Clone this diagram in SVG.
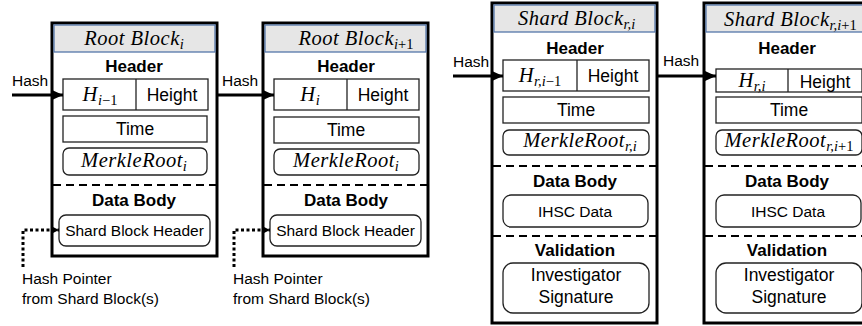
<svg xmlns="http://www.w3.org/2000/svg" width="862" height="326" viewBox="0 0 862 326">
<style>
.outer{fill:#fff;stroke:#000;stroke-width:3}
.band{fill:#e6e6e6;stroke:#5577aa;stroke-width:1.3}
.cell{fill:#fff;stroke:#222;stroke-width:1.3}
.sep{stroke:#000;stroke-width:2;stroke-dasharray:8 5;fill:none}
.math{font-family:"Liberation Serif","DejaVu Serif",serif;font-style:italic;font-size:20.5px;letter-spacing:0.5px;fill:#000}
.sub{font-size:14.5px;letter-spacing:0}
.up{font-style:normal}
.bold{font-family:"Liberation Sans",Arial,sans-serif;font-weight:bold;font-size:17px;fill:#000}
.txt{font-family:"Liberation Sans",Arial,sans-serif;font-size:17.5px;fill:#000}
.sm{font-family:"Liberation Sans",Arial,sans-serif;font-size:15.5px;fill:#000}
.arr{stroke:#000;stroke-width:3;fill:none}
.dot{stroke:#000;stroke-width:3;stroke-dasharray:3 2.5;fill:none}
</style>
<defs>
<marker id="ah" markerUnits="userSpaceOnUse" markerWidth="11" markerHeight="10" refX="11" refY="5" orient="auto">
<path d="M0,0 L11,5 L0,10 z" fill="#000"/>
</marker>
<marker id="ahs" markerUnits="userSpaceOnUse" markerWidth="8" markerHeight="8" refX="8" refY="4" orient="auto">
<path d="M0,0 L8,4 L0,8 z" fill="#000"/>
</marker>
</defs>

<g id="root-block-i">
<rect class="outer" x="52" y="23" width="165" height="233"/>
<rect class="band" x="54" y="25" width="161" height="27"/>
<text class="math" x="134" y="45" text-anchor="middle">Root Block<tspan class="sub" dy="4">i</tspan></text>
<text class="bold" x="134" y="72" text-anchor="middle">Header</text>
<rect class="cell" x="63" y="79" width="145" height="31"/>
<line x1="136" y1="79" x2="136" y2="110" stroke="#222" stroke-width="1.3"/>
<text class="math" x="100" y="101" text-anchor="middle">H<tspan class="sub" dy="4">i<tspan class="up">−1</tspan></tspan></text>
<text class="txt" x="172" y="101" text-anchor="middle">Height</text>
<rect class="cell" x="63" y="116" width="144" height="26"/>
<text class="txt" x="135" y="135" text-anchor="middle">Time</text>
<rect class="cell" x="63" y="148" width="144" height="27" rx="6"/>
<text class="math" x="134" y="167" text-anchor="middle">MerkleRoot<tspan class="sub" dy="4">i</tspan></text>
<line class="sep" x1="53" y1="185" x2="216" y2="185"/>
<text class="bold" x="134" y="206" text-anchor="middle">Data Body</text>
<rect class="cell" x="59" y="215" width="151" height="31" rx="7"/>
<text class="sm" x="134.5" y="236" text-anchor="middle">Shard Block Header</text>
</g>

<g id="root-block-i1">
<rect class="outer" x="263" y="23" width="165" height="233"/>
<rect class="band" x="265" y="25" width="161" height="27"/>
<text class="math" x="356" y="45" text-anchor="middle">Root Block<tspan class="sub" dy="4">i<tspan class="up">+1</tspan></tspan></text>
<text class="bold" x="346" y="72" text-anchor="middle">Header</text>
<rect class="cell" x="274" y="79" width="145" height="31"/>
<line x1="347" y1="79" x2="347" y2="110" stroke="#222" stroke-width="1.3"/>
<text class="math" x="310" y="101" text-anchor="middle">H<tspan class="sub" dy="4">i</tspan></text>
<text class="txt" x="383" y="101" text-anchor="middle">Height</text>
<rect class="cell" x="274" y="117" width="145" height="26"/>
<text class="txt" x="346" y="136" text-anchor="middle">Time</text>
<rect class="cell" x="274" y="149" width="145" height="26" rx="6"/>
<text class="math" x="346" y="167" text-anchor="middle">MerkleRoot<tspan class="sub" dy="4">i</tspan></text>
<line class="sep" x1="264" y1="185" x2="427" y2="185"/>
<text class="bold" x="346" y="206" text-anchor="middle">Data Body</text>
<rect class="cell" x="270" y="215" width="151" height="31" rx="7"/>
<text class="sm" x="345.5" y="236" text-anchor="middle">Shard Block Header</text>
</g>

<g id="shard-block-ri">
<rect class="outer" x="492" y="3" width="165" height="320"/>
<rect class="band" x="494" y="5" width="161" height="27"/>
<text class="math" x="518" y="25">Shard Block<tspan class="sub" dy="4">r,i</tspan></text>
<text class="bold" x="575" y="54" text-anchor="middle">Header</text>
<rect class="cell" x="503" y="60" width="146" height="31"/>
<line x1="577" y1="60" x2="577" y2="91" stroke="#222" stroke-width="1.3"/>
<text class="math" x="540" y="82" text-anchor="middle">H<tspan class="sub" dy="4">r,i<tspan class="up">−1</tspan></tspan></text>
<text class="txt" x="613" y="82" text-anchor="middle">Height</text>
<rect class="cell" x="503" y="97" width="146" height="26"/>
<text class="txt" x="576" y="116" text-anchor="middle">Time</text>
<rect class="cell" x="503" y="130" width="146" height="25" rx="6"/>
<text class="math" x="580" y="147" text-anchor="middle">MerkleRoot<tspan class="sub" dy="4">r,i</tspan></text>
<line class="sep" x1="493" y1="166" x2="656" y2="166"/>
<text class="bold" x="575" y="187" text-anchor="middle">Data Body</text>
<rect class="cell" x="503" y="195" width="145" height="32" rx="8"/>
<text class="sm" x="575" y="217" text-anchor="middle">IHSC Data</text>
<line class="sep" x1="493" y1="236" x2="656" y2="236"/>
<text class="bold" x="575" y="256" text-anchor="middle">Validation</text>
<rect class="cell" x="503" y="263" width="146" height="50" rx="10"/>
<text class="txt" x="576" y="281" text-anchor="middle" font-size="16">Investigator</text>
<text class="txt" x="576" y="303" text-anchor="middle" font-size="16">Signature</text>
</g>

<g id="shard-block-ri1">
<rect class="outer" x="704" y="3" width="165" height="320"/>
<rect class="band" x="706" y="5" width="161" height="27"/>
<text class="math" x="724" y="26">Shard Block<tspan class="sub" dy="4">r,i<tspan class="up">+1</tspan></tspan></text>
<text class="bold" x="787" y="54" text-anchor="middle">Header</text>
<rect class="cell" x="716" y="69" width="146" height="23"/>
<line x1="788" y1="69" x2="788" y2="92" stroke="#222" stroke-width="1.3"/>
<text class="math" x="752" y="87" text-anchor="middle">H<tspan class="sub" dy="4">r,i</tspan></text>
<text class="txt" x="825" y="88" text-anchor="middle">Height</text>
<rect class="cell" x="716" y="97" width="146" height="26"/>
<text class="txt" x="789" y="116" text-anchor="middle">Time</text>
<rect class="cell" x="716" y="130" width="146" height="25" rx="6"/>
<text class="math" x="789" y="147" text-anchor="middle">MerkleRoot<tspan class="sub" dy="4">r,i<tspan class="up">+1</tspan></tspan></text>
<line class="sep" x1="705" y1="166" x2="862" y2="166"/>
<text class="bold" x="787" y="187" text-anchor="middle">Data Body</text>
<rect class="cell" x="716" y="195" width="145" height="32" rx="8"/>
<text class="sm" x="788" y="217" text-anchor="middle">IHSC Data</text>
<line class="sep" x1="705" y1="236" x2="862" y2="236"/>
<text class="bold" x="787" y="256" text-anchor="middle">Validation</text>
<rect class="cell" x="716" y="263" width="146" height="50" rx="10"/>
<text class="txt" x="789" y="281" text-anchor="middle" font-size="16">Investigator</text>
<text class="txt" x="789" y="303" text-anchor="middle" font-size="16">Signature</text>
</g>

<g id="connectors">
<line class="arr" x1="12" y1="95" x2="63" y2="95" marker-end="url(#ah)"/>
<text class="sm" x="12" y="86">Hash</text>
<line class="arr" x1="217" y1="95" x2="274" y2="95" marker-end="url(#ah)"/>
<text class="sm" x="222" y="86">Hash</text>
<line class="arr" x1="453" y1="76" x2="503" y2="76" marker-end="url(#ah)"/>
<text class="sm" x="453" y="67">Hash</text>
<line class="arr" x1="657" y1="76" x2="716" y2="76" marker-end="url(#ah)"/>
<text class="sm" x="663" y="66">Hash</text>
<polyline class="dot" points="23,267 23,230 59,230" marker-end="url(#ahs)"/>
<polyline class="dot" points="234,267 234,230 270,230" marker-end="url(#ahs)"/>
<text class="sm" x="22" y="284">Hash Pointer</text>
<text class="sm" x="22" y="304">from Shard Block(s)</text>
<text class="sm" x="233" y="284">Hash Pointer</text>
<text class="sm" x="233" y="304">from Shard Block(s)</text>
</g>
</svg>
